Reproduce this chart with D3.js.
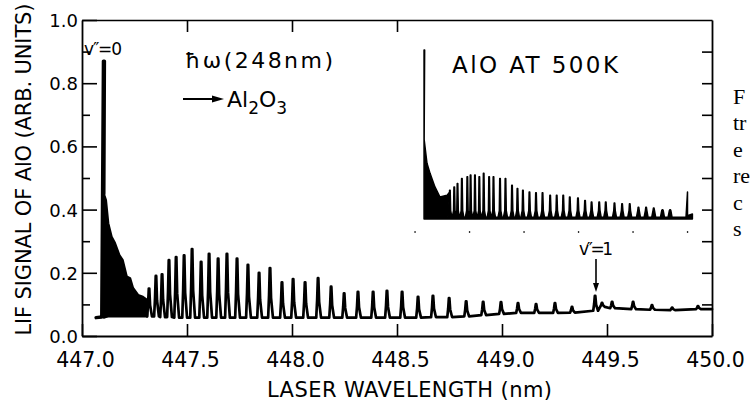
<!DOCTYPE html>
<html>
<head>
<meta charset="utf-8">
<script src="https://cdn.jsdelivr.net/npm/d3@7"></script>
<style>
  html, body { margin: 0; padding: 0; background: #fff; }
  svg { display: block; }
</style>
</head>
<body>
<script>
// ---------------- DATA ----------------
// Axis ticks
const xTicks = [447.0, 447.5, 448.0, 448.5, 449.0, 449.5, 450.0];
const xTickLabels = ["447.0", "447.5", "448.0", "448.5", "449.0", "449.5", "450.0"];
const yMajor = [0.0, 0.2, 0.4, 0.6, 0.8, 1.0];
const yTickLabels = ["0.0", "0.2", "0.4", "0.6", "0.8", "1.0"];
const yMinor = [0.1, 0.3, 0.5, 0.7, 0.9];
const topTicks = [447.5, 448.0, 448.5];
const rightTicks = [0.1, 0.2, 0.3, 0.4, 0.5, 0.6, 0.7, 0.8, 0.9];

// Main spectrum: lead-in baseline before the v"=0 head
const leadNm = [447.067, 447.094];
const leadVal = [0.058, 0.060];
// v"=0 head (tall spike)
const headNm = 447.102;
const headVal = 0.87;
// dense unresolved region after the head (upper / lower envelope)
const denseNm  = [447.104, 447.114, 447.125, 447.141, 447.157, 447.178, 447.194, 447.213, 447.229, 447.243, 447.267, 447.290, 447.310];
const denseTop = [0.45,    0.43,    0.357,   0.314,   0.294,   0.256,   0.240,   0.188,   0.183,   0.152,   0.130,   0.124,   0.114];
const denseBot = [0.058,   0.060,   0.062,   0.062,   0.062,   0.062,   0.062,   0.062,   0.062,   0.062,   0.062,   0.062,   0.062];
// resolved band heads: position (nm), peak value, local baseline
const bandNm = [447.319, 447.352, 447.381, 447.414, 447.448, 447.486, 447.524, 447.567, 447.605, 447.648,
                447.690, 447.738, 447.790, 447.843, 447.895, 447.952, 448.005, 448.062, 448.124, 448.186,
                448.248, 448.314, 448.386, 448.452, 448.524, 448.600, 448.671, 448.748, 448.829, 448.910,
                448.995, 449.076, 449.162, 449.252, 449.333, 449.443, 449.476, 449.524, 449.624, 449.714,
                449.810, 449.933];
const bandVal = [0.150, 0.190, 0.195, 0.240, 0.250, 0.255, 0.275, 0.235, 0.260, 0.245,
                 0.260, 0.245, 0.225, 0.200, 0.215, 0.170, 0.180, 0.170, 0.183, 0.156,
                 0.135, 0.140, 0.140, 0.143, 0.140, 0.124, 0.127, 0.120, 0.110, 0.108,
                 0.107, 0.104, 0.101, 0.104, 0.092, 0.127, 0.105, 0.108, 0.108, 0.098,
                 0.090, 0.095];
const bandBase = [0.062, 0.062, 0.060, 0.060, 0.058, 0.058, 0.058, 0.058, 0.058, 0.058,
                  0.058, 0.058, 0.058, 0.058, 0.058, 0.058, 0.058, 0.058, 0.058, 0.058,
                  0.058, 0.058, 0.058, 0.058, 0.058, 0.058, 0.060, 0.060, 0.062, 0.066,
                  0.070, 0.073, 0.073, 0.073, 0.074, 0.080, 0.092, 0.088, 0.085, 0.083,
                  0.082, 0.085];
const endNm = 450.0, endVal = 0.085;

// Inset (AlO at 500 K), relative intensity
const insetHeadNm = 447.083, insetHeadVal = 1.0;
const insetDenseNm  = [447.084, 447.110, 447.138, 447.183, 447.229, 447.294, 447.318];
const insetDenseTop = [0.47,    0.33,    0.27,    0.19,    0.13,    0.14,    0.16];
const insetBandNm = [447.32, 447.36, 447.39, 447.43, 447.48, 447.51, 447.55, 447.59, 447.63, 447.68,
                     447.72, 447.78, 447.83, 447.89, 447.94, 447.99, 448.05, 448.11, 448.17, 448.24,
                     448.30, 448.36, 448.42, 448.495, 448.56, 448.62, 448.69, 448.75, 448.83, 448.90,
                     448.97, 449.05, 449.12, 449.19, 449.27, 449.34];
const insetBandVal = [0.17, 0.19, 0.21, 0.24, 0.25, 0.26, 0.26, 0.25, 0.27, 0.25,
                      0.25, 0.24, 0.24, 0.20, 0.18, 0.17, 0.16, 0.155, 0.155, 0.14,
                      0.14, 0.14, 0.13, 0.125, 0.11, 0.10, 0.10, 0.10, 0.095, 0.09,
                      0.09, 0.07, 0.07, 0.065, 0.055, 0.055];
const insetEndNm = [449.50, 449.50, 449.545];
const insetEndVal = [0.16, 0.02, 0.03];
const insetTicks = [447.0, 447.5, 448.0, 448.5, 449.0, 449.5];

// Labels
const yLabel = "LIF SIGNAL OF AlO (ARB. UNITS)";
const xLabel = "LASER WAVELENGTH (nm)";
const captionFragments = ["F", "tr", "e", "re", "c", "s"];

// ---------------- DRAWING ----------------
const W = 751, H = 404;
const FONT = "'DejaVu Sans', sans-serif";
const svg = d3.select("body").append("svg").attr("width", W).attr("height", H);
svg.append("rect").attr("width", W).attr("height", H).attr("fill", "#fff");

const x = d3.scaleLinear().domain([447, 450]).range([82, 712]);
const y = d3.scaleLinear().domain([0, 1]).range([336, 20]);
const xi = d3.scaleLinear().domain([447, 450]).range([415, 742]);
const yi = d3.scaleLinear().domain([0, 1]).range([219, 50]);

function styleAxis(g, sw) {
  g.select(".domain").attr("stroke", "#000").attr("stroke-width", sw);
  g.selectAll(".tick line").attr("stroke", "#000").attr("stroke-width", 1.6);
}

// bottom axis
const gB = svg.append("g").attr("transform", `translate(0,${y(0)})`)
  .call(d3.axisBottom(x).tickValues(xTicks).tickFormat((d, i) => xTickLabels[i])
    .tickSizeInner(-12).tickSizeOuter(0).tickPadding(16));
styleAxis(gB, 1.8);
gB.selectAll(".tick text").attr("font-family", FONT).attr("font-size", 20.5)
  .attr("fill", "#000").attr("dx", 3);

// left axis
const gL = svg.append("g").attr("transform", `translate(${x(447)},0)`)
  .call(d3.axisLeft(y).tickValues(yMajor).tickFormat((d, i) => yTickLabels[i])
    .tickSizeInner(-15).tickSizeOuter(0).tickPadding(4));
styleAxis(gL, 1.8);
gL.selectAll(".tick text").attr("font-family", FONT).attr("font-size", 18)
  .attr("fill", "#000").attr("dy", "0.36em");
const gLm = svg.append("g").attr("transform", `translate(${x(447)},0)`)
  .call(d3.axisLeft(y).tickValues(yMinor).tickFormat("").tickSizeInner(-8).tickSizeOuter(0));
gLm.select(".domain").remove();
styleAxis(gLm, 0);

// top axis
const gT = svg.append("g").attr("transform", `translate(0,${y(1)})`)
  .call(d3.axisTop(x).tickValues(topTicks).tickFormat("").tickSizeInner(-12).tickSizeOuter(0));
styleAxis(gT, 1.6);

// right axis
const gR = svg.append("g").attr("transform", `translate(${x(450)},0)`)
  .call(d3.axisRight(y).tickValues(rightTicks).tickFormat("").tickSizeInner(-10).tickSizeOuter(0));
styleAxis(gR, 1.8);

// ---- main spectrum ----
const lineGen = d3.line().x(d => d[0]).y(d => d[1]);

// lead-in and head spike
const headPts = leadNm.map((n, i) => [x(n), y(leadVal[i])]);
headPts.push([x(headNm), y(headVal)]);
headPts.push([x(headNm) + 1.0, y(headVal)]);
headPts.push([x(denseNm[0]), y(denseTop[0])]);
svg.append("path").attr("d", lineGen(headPts))
  .attr("fill", "none").attr("stroke", "#000").attr("stroke-width", 3.4)
  .attr("stroke-linejoin", "round").attr("stroke-linecap", "round");

// dense region
const densePoly = denseNm.map((n, i) => [x(n), y(denseTop[i])])
  .concat(denseNm.map((n, i) => [x(n), y(denseBot[i])]).reverse());
svg.append("path").attr("d", lineGen(densePoly) + "Z")
  .attr("fill", "#000").attr("stroke", "#000").attr("stroke-width", 2.2)
  .attr("stroke-linejoin", "round");

// resolved bands (narrow solid spikes)
const bandPts = [[x(denseNm[denseNm.length - 1]), y(denseBot[denseBot.length - 1])]];
bandNm.forEach((n, i) => {
  const px = x(n);
  bandPts.push([px - 1.8, y(bandBase[i])]);
  bandPts.push([px - 0.9, y(bandBase[i] + 0.45 * (bandVal[i] - bandBase[i]))]);
  bandPts.push([px - 0.2, y(bandVal[i])]);
  bandPts.push([px + 0.3, y(bandVal[i])]);
  bandPts.push([px + 1.1, y(bandBase[i] + 0.4 * (bandVal[i] - bandBase[i]))]);
  bandPts.push([px + 3.0, y(bandBase[i])]);
});
bandPts.push([x(endNm), y(endVal)]);
svg.append("path").attr("d", lineGen(bandPts))
  .attr("fill", "none").attr("stroke", "#000").attr("stroke-width", 2.7)
  .attr("stroke-linejoin", "round").attr("stroke-linecap", "round");

// ---- inset ----
const insetPts = [[xi(insetHeadNm), yi(0)], [xi(insetHeadNm), yi(insetHeadVal)],
                  [xi(insetHeadNm) + 0.6, yi(insetHeadVal)]];
insetDenseNm.forEach((n, i) => insetPts.push([xi(n), yi(insetDenseTop[i])]));
insetBandNm.forEach((n, i) => {
  const px = xi(n);
  insetPts.push([px - 2.0, yi(0.01)]);
  insetPts.push([px - 0.7, yi(0.05)]);
  insetPts.push([px - 0.3, yi(insetBandVal[i])]);
  insetPts.push([px + 0.3, yi(insetBandVal[i])]);
  insetPts.push([px + 0.8, yi(0.05)]);
  insetPts.push([px + 2.0, yi(0.01)]);
});
insetPts.push([xi(insetEndNm[0]) - 1.5, yi(0.01)]);
insetEndNm.forEach((n, i) => insetPts.push([xi(n), yi(insetEndVal[i])]));
insetPts.push([xi(insetEndNm[insetEndNm.length - 1]), yi(0)]);
svg.append("path").attr("d", lineGen(insetPts) + "Z")
  .attr("fill", "#000").attr("stroke", "#000").attr("stroke-width", 1.5)
  .attr("stroke-linejoin", "round");
// inset tick specks
svg.selectAll(".itick").data(insetTicks).enter().append("rect")
  .attr("x", d => xi(d) - 0.6).attr("y", yi(0) + 12).attr("width", 1.3).attr("height", 2)
  .attr("fill", "#333");

// ---- annotations ----
function txt(str, px, py, size, opts = {}) {
  const t = svg.append("text").attr("x", px).attr("y", py)
    .attr("font-family", opts.family || FONT).attr("font-size", size)
    .attr("fill", "#000").text(str);
  if (opts.anchor) t.attr("text-anchor", opts.anchor);
  if (opts.len) t.attr("textLength", opts.len).attr("lengthAdjust", "spacing");
  return t;
}

txt("v\u2033=0", 84, 55, 17, { len: 38 });
txt("\u0127\u03C9(248nm)", 185, 68, 22, { len: 148 });

// arrow -> Al2O3
svg.append("line").attr("x1", 183).attr("y1", 99).attr("x2", 214).attr("y2", 99)
  .attr("stroke", "#000").attr("stroke-width", 2);
svg.append("path").attr("d", "M212,95.5 L224,99 L212,102.5 Z").attr("fill", "#000");
const al = svg.append("text").attr("x", 227).attr("y", 107)
  .attr("font-family", FONT).attr("font-size", 22).attr("fill", "#000");
al.append("tspan").text("Al");
al.append("tspan").attr("font-size", 17).attr("dy", 7).text("2");
al.append("tspan").attr("dy", -7).text("O");
al.append("tspan").attr("font-size", 17).attr("dy", 7).text("3");

txt("AlO AT 500K", 452, 73, 23, { len: 166 });

// v"=1 label and arrow
txt("v\u2033=1", 596, 255, 17, { anchor: "middle", len: 34 });
svg.append("line").attr("x1", 596).attr("y1", 259).attr("x2", 596).attr("y2", 284)
  .attr("stroke", "#000").attr("stroke-width", 1.6);
svg.append("path").attr("d", "M593,283 L596,292 L599,283 Z").attr("fill", "#000");

// axis titles
svg.append("text").attr("transform", `translate(31,${(3 + 336) / 2}) rotate(-90)`)
  .attr("text-anchor", "middle").attr("font-family", FONT).attr("font-size", 21)
  .attr("fill", "#000").attr("textLength", 332).attr("lengthAdjust", "spacing")
  .text(yLabel);
txt(xLabel, 409.5, 397, 21, { anchor: "middle", len: 285 });

// partial caption of the scanned page (cut at right edge)
captionFragments.forEach((s, i) => {
  txt(s, 733, 104 + i * 26.4, 22, { family: "'Liberation Serif', 'Times New Roman', serif" });
});
</script>
</body>
</html>
